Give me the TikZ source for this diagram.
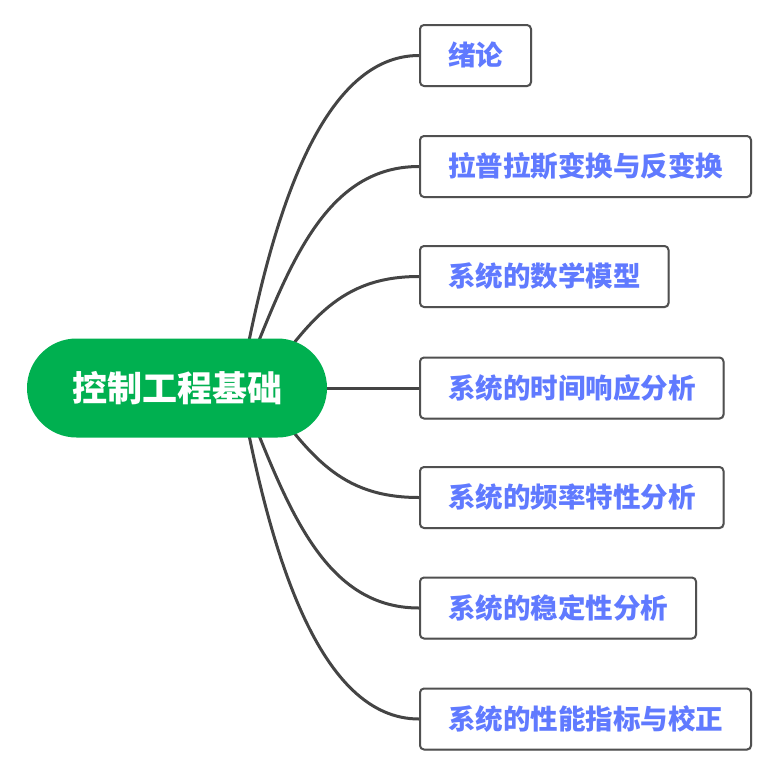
\documentclass[tikz,border=0pt]{standalone}
\usepackage{fontspec}
\newfontfamily\cjk{Noto Sans CJK SC}
\usetikzlibrary{positioning}
\usetikzlibrary{shadows}
\usetikzlibrary{backgrounds}
\definecolor{rootgreen}{RGB}{0,176,80}
\definecolor{topicblue}{RGB}{96,122,255}
\definecolor{boxgray}{RGB}{80,80,80}
\definecolor{linegray}{RGB}{68,68,68}
\tikzset{x=1pt, y=-1pt, % one unit is one pixel of the picture
      root/.style={ % The central topic
      rectangle, rounded corners=49.5pt,
      fill=rootgreen, text=white,
      font=\cjk\bfseries\fontsize{35}{40}\selectfont,
      minimum width=300pt, minimum height=99pt},
      topic/.style={ % Sets the properties for each sub topic
      draw=boxgray, line width=2pt, rounded corners=4pt,
      fill=white, text=topicblue,
      font=\cjk\bfseries\fontsize{27.5}{30}\selectfont,
      inner xsep=28pt, minimum height=61pt, anchor=west,
      drop shadow={shadow xshift=1pt, shadow yshift=-1pt, fill=black!35, opacity=0.5}},
      branch/.style={ % Sets the properties for each connector
      draw=linegray, line width=3pt}}

\begin{document}
\begin{tikzpicture}
      \useasboundingbox (0,0) rectangle (781,779);
      \node[root] (root) at (177,388) {控制工程基础};
      \node[topic] (t1) at (419,55.5) {绪论};
      \node[topic] (t2) at (419,166.5) {拉普拉斯变换与反变换};
      \node[topic] (t3) at (419,276.5) {系统的数学模型};
      \node[topic] (t4) at (419,388) {系统的时间响应分析};
      \node[topic] (t5) at (419,497.5) {系统的频率特性分析};
      \node[topic] (t6) at (419,608) {系统的稳定性分析};
      \node[topic] (t7) at (419,719) {系统的性能指标与校正};
      \coordinate (hubA) at (240,388);
      \coordinate (hubB) at (260,388);
      \begin{scope}[on background layer]
      \draw[branch] (hubA) .. controls +(30,-168) and +(-99,0) .. (t1.west);
      \draw[branch] (hubA) .. controls +(45,-111) and +(-99,0) .. (t2.west);
      \draw[branch] (hubB) .. controls +(50,-68) and +(-79,0) .. (t3.west);
      \draw[branch] (root.east) -- (t4.west);
      \draw[branch] (hubB) .. controls +(50,68) and +(-79,0) .. (t5.west);
      \draw[branch] (hubA) .. controls +(45,111) and +(-99,0) .. (t6.west);
      \draw[branch] (hubA) .. controls +(30,168) and +(-99,0) .. (t7.west);
      \end{scope}
    \end{tikzpicture}
\end{document}
